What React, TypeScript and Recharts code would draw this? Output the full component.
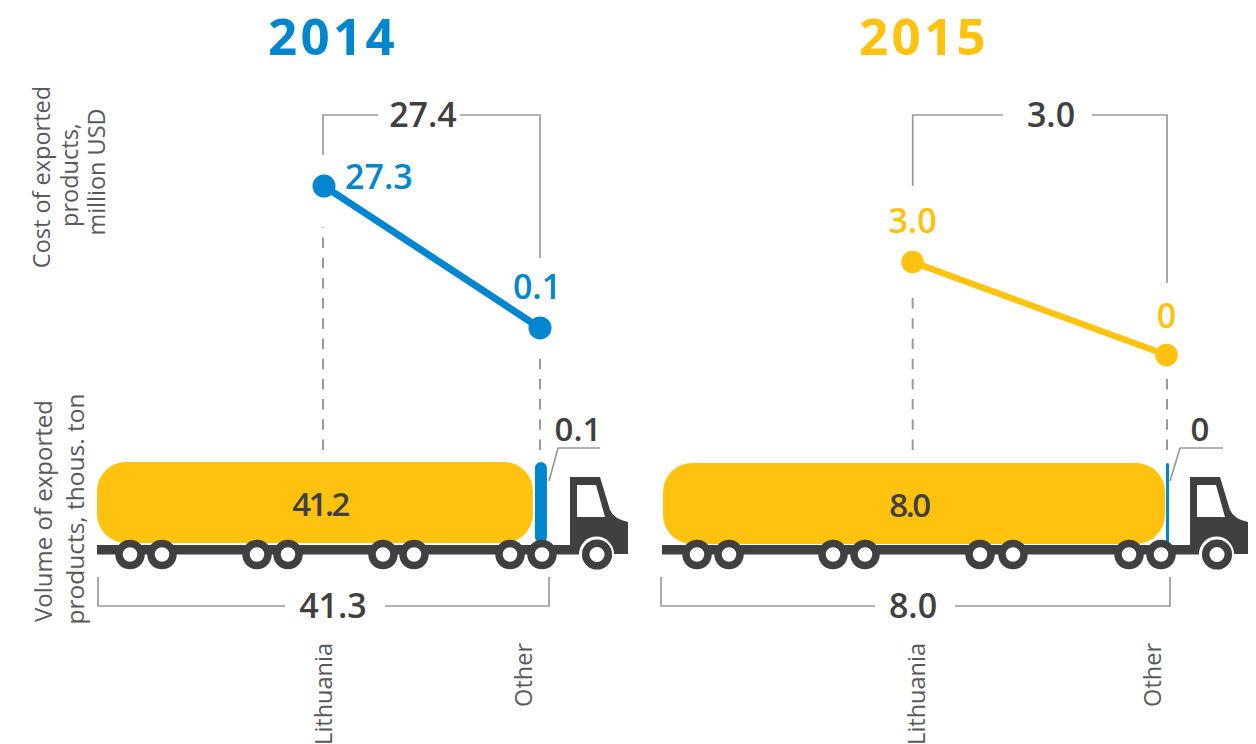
import { BarChart, Bar, LineChart, Line, XAxis, YAxis, LabelList, Rectangle } from "recharts";

const W = 1256;
const H = 744;
const FONT = "'Open Sans', sans-serif";
const BLUE = "#0086CF";
const YELLOW = "#FFC20E";
const DARK = "#404041";
const GRAY = "#9a9a9a";
const TEXT = "#58595b";

const categories = ["Lithuania", "Other"];
const cost2014 = [27.3, 0.1];
const cost2015 = [3.0, 0];
const volume2014 = [41.2, 0.1];
const volume2015 = [8.0, 0];
const costTotals = ["27.4", "3.0"];
const volumeTotals = ["41.3", "8.0"];
const otherVolumeLabels = ["0.1", "0"];

const costRows = (vals: number[]) => categories.map((c, i) => ({ name: c, cost: vals[i] }));
const volumeRows = (vals: number[]) => [{ name: "volume", Lithuania: vals[0], Other: vals[1] }];
const fmt = (v: number) => (v === 0 ? "0" : v.toFixed(1));

interface PanelProps {
  year: string;
  color: string;
  cost: number[];
  volume: number[];
  costTotal: string;
  volumeTotal: string;
  otherLabel: string;
  titleX: number;
  pts: [number, number]; // x of the two line points
  costDomain: number;
  costTop: number;
  costBottom: number;
  lineW: number;
  dotR: number;
  labelOff: { dx: number; dy: number; anchor: string }[];
  tickOff: number[];
  tank: { left: number; right: number; top: number; bottom: number; max: number; labelDx: number };
  other: { gap: number; width: number };
  wheels: number[];
  chassis: number;
  cabDx: number;
  bracket: {
    left: number; right: number; leftEnd: number; rightEnd: number;
    gapL: number; gapR: number; textX: number; dashL: number; dashR: number;
  };
  lower: { left: number; right: number; gapL: number; gapR: number; textX: number };
  callout: { x0: number; x1: number; x2: number; textX: number };
}

function Panel(p: PanelProps) {
  const { tank, bracket: b, lower: l, callout: c } = p;

  const pointLabel = (props: any) => {
    const o = p.labelOff[props.index];
    return (
      <text
        x={props.x + o.dx}
        y={props.y + o.dy}
        textAnchor={o.anchor as any}
        fill={p.color}
        fontFamily={FONT}
        fontWeight={600}
        fontSize={34}
      >
        {fmt(props.value)}
      </text>
    );
  };

  const catTick = (props: any) => (
    <text
      transform={`translate(${props.x + p.tickOff[props.index]},643) rotate(-90)`}
      textAnchor="end"
      dominantBaseline="central"
      fill={TEXT}
      fontFamily={FONT}
      fontSize={23.5}
    >
      {props.payload.value}
    </text>
  );

  const otherBar = (props: any) => (
    <Rectangle
      x={props.x + p.other.gap}
      y={props.y}
      width={p.other.width}
      height={props.height}
      radius={p.other.width / 2}
      fill={BLUE}
    />
  );

  const tankLabel = (props: any) => (
    <text
      x={props.x + props.width / 2 + tank.labelDx}
      y={props.y + 54}
      textAnchor="middle"
      fill={DARK}
      fontFamily={FONT}
      fontWeight={600}
      fontSize={33}
      letterSpacing={-2.5}
    >
      {fmt(props.value)}
    </text>
  );

  return (
    <>
      <div style={{ position: "absolute", left: 0, top: 0 }}>
        <LineChart
          width={W}
          height={H}
          data={costRows(p.cost)}
          margin={{ left: p.pts[0], right: W - p.pts[1], top: p.costTop, bottom: H - p.costBottom - 30 }}
        >
          <XAxis dataKey="name" height={30} axisLine={false} tickLine={false} interval={0} tick={catTick} />
          <YAxis hide domain={[0, p.costDomain]} />
          <Line
            dataKey="cost"
            stroke={p.color}
            strokeWidth={p.lineW}
            dot={{ r: p.dotR, fill: p.color, stroke: "none" }}
            label={pointLabel}
            isAnimationActive={false}
          />
        </LineChart>
      </div>

      <div style={{ position: "absolute", left: 0, top: 0 }}>
        <BarChart
          width={W}
          height={H}
          layout="vertical"
          data={volumeRows(p.volume)}
          barCategoryGap={0}
          margin={{ left: tank.left, right: W - tank.right, top: tank.top, bottom: H - tank.bottom }}
        >
          <XAxis type="number" hide domain={[0, tank.max]} />
          <YAxis type="category" dataKey="name" hide />
          <Bar dataKey="Lithuania" stackId="v" fill={YELLOW} radius={29} isAnimationActive={false}>
            <LabelList dataKey="Lithuania" content={tankLabel} />
          </Bar>
          <Bar dataKey="Other" stackId="v" fill={BLUE} shape={otherBar} isAnimationActive={false} />
        </BarChart>
      </div>

      <svg width={W} height={H} style={{ position: "absolute", left: 0, top: 0 }} fontFamily={FONT}>
        <text x={p.titleX} y={54.5} textAnchor="middle" fill={p.color} fontWeight={700} fontSize={51} letterSpacing={3.4}>
          {p.year}
        </text>

        {/* upper bracket and guides */}
        <g fill="none" stroke={GRAY} strokeWidth={1.7}>
          <path d={`M${b.left} ${b.leftEnd}V115H${b.gapL}M${b.gapR} 115H${b.right}V${b.rightEnd}`} />
          <path d={`M${b.left} 450V${b.dashL}M${b.right} 450V${b.dashR}`} strokeDasharray="10.5 9.7" strokeWidth={2} />
          {/* lower bracket */}
          <path d={`M${l.left} 577V606H${l.gapL}M${l.gapR} 606H${l.right}V577`} />
          {/* callout to the small bar */}
          <path d={`M${c.x0} 481L${c.x1} 448H${c.x2}`} />
        </g>
        <text x={b.textX} y={127} textAnchor="middle" fill={DARK} fontWeight={600} fontSize={34}>{p.costTotal}</text>
        <text x={l.textX} y={618} textAnchor="middle" fill={DARK} fontWeight={600} fontSize={34}>{p.volumeTotal}</text>
        <text x={c.textX} y={441} textAnchor="middle" fill={DARK} fontWeight={600} fontSize={33}>{p.otherLabel}</text>

        {/* truck */}
        <rect x={p.chassis} y={545} width={p.cabDx + 579 - p.chassis} height={9.5} fill={DARK} />
        <g transform={`translate(${p.cabDx},0)`}>
          <path d="M570 477H600L610 510Q614 519 628 522V554H614A17.5 17.5 0 0 0 579 554V545H570Z" fill={DARK} />
          <path d="M577 485H596L605 517H577Z" fill="#fff" />
          <circle cx={597} cy={554.5} r={11.3} fill="#fff" stroke={DARK} strokeWidth={7.5} />
        </g>
        {p.wheels.map((x) => (
          <circle key={x} cx={x} cy={554.5} r={11} fill="#fff" stroke={DARK} strokeWidth={7.5} />
        ))}
      </svg>
    </>
  );
}

const sideText = (x: number, y: number, t: string, size: number) => (
  <text
    key={t}
    transform={`translate(${x},${y}) rotate(-90)`}
    textAnchor="middle"
    fill={TEXT}
    fontFamily={FONT}
    fontSize={size}
  >
    {t}
  </text>
);

export default function App() {
  return (
    <div style={{ position: "absolute", left: 0, top: 0, width: W, height: H, background: "#fff", overflow: "hidden" }}>
      <Panel
        year="2014"
        color={BLUE}
        cost={cost2014}
        volume={volume2014}
        costTotal={costTotals[0]}
        volumeTotal={volumeTotals[0]}
        otherLabel={otherVolumeLabels[0]}
        titleX={333}
        pts={[324, 540]}
        costDomain={30}
        costTop={172}
        costBottom={328.5}
        lineW={7}
        dotR={11.5}
        labelOff={[{ dx: 21, dy: 3, anchor: "start" }, { dx: -3, dy: -29, anchor: "middle" }]}
        tickOff={[-1, -17]}
        tank={{ left: 97, right: 534, top: 462, bottom: 543, max: 41.3, labelDx: 5 }}
        other={{ gap: 2, width: 12 }}
        wheels={[130, 162, 257, 288, 383, 414, 510, 542]}
        chassis={97}
        cabDx={0}
        bracket={{ left: 323, right: 540, leftEnd: 155, rightEnd: 258, gapL: 378, gapR: 460, textX: 423, dashL: 227, dashR: 355 }}
        lower={{ left: 98, right: 549, gapL: 285, gapR: 385, textX: 333 }}
        callout={{ x0: 549, x1: 558, x2: 600, textX: 578 }}
      />
      <Panel
        year="2015"
        color={YELLOW}
        cost={cost2015}
        volume={volume2015}
        costTotal={costTotals[1]}
        volumeTotal={volumeTotals[1]}
        otherLabel={otherVolumeLabels[1]}
        titleX={924}
        pts={[912.5, 1166.5]}
        costDomain={4}
        costTop={231}
        costBottom={355}
        lineW={6.5}
        dotR={11.3}
        labelOff={[{ dx: 0, dy: -29, anchor: "middle" }, { dx: 0, dy: -27, anchor: "middle" }]}
        tickOff={[3, -15]}
        tank={{ left: 663, right: 1165, top: 463, bottom: 544, max: 8, labelDx: -5 }}
        other={{ gap: 1, width: 3 }}
        wheels={[697, 729, 833, 865, 980, 1013, 1129, 1161]}
        chassis={662}
        cabDx={620}
        bracket={{ left: 912.7, right: 1167, leftEnd: 186, rightEnd: 283, gapL: 1003, gapR: 1092, textX: 1051, dashL: 291, dashR: 377 }}
        lower={{ left: 661, right: 1170, gapL: 875, gapR: 955, textX: 913 }}
        callout={{ x0: 1170, x1: 1180, x2: 1223, textX: 1200 }}
      />
      <svg width={W} height={H} style={{ position: "absolute", left: 0, top: 0 }}>
        {sideText(50, 177, "Cost of exported", 23.5)}
        {sideText(78, 175, "products,", 23.5)}
        {sideText(105, 172, "million USD", 23.5)}
        {sideText(52, 511, "Volume of exported", 24)}
        {sideText(84, 509, "products, thous. ton", 24.5)}
      </svg>
    </div>
  );
}
